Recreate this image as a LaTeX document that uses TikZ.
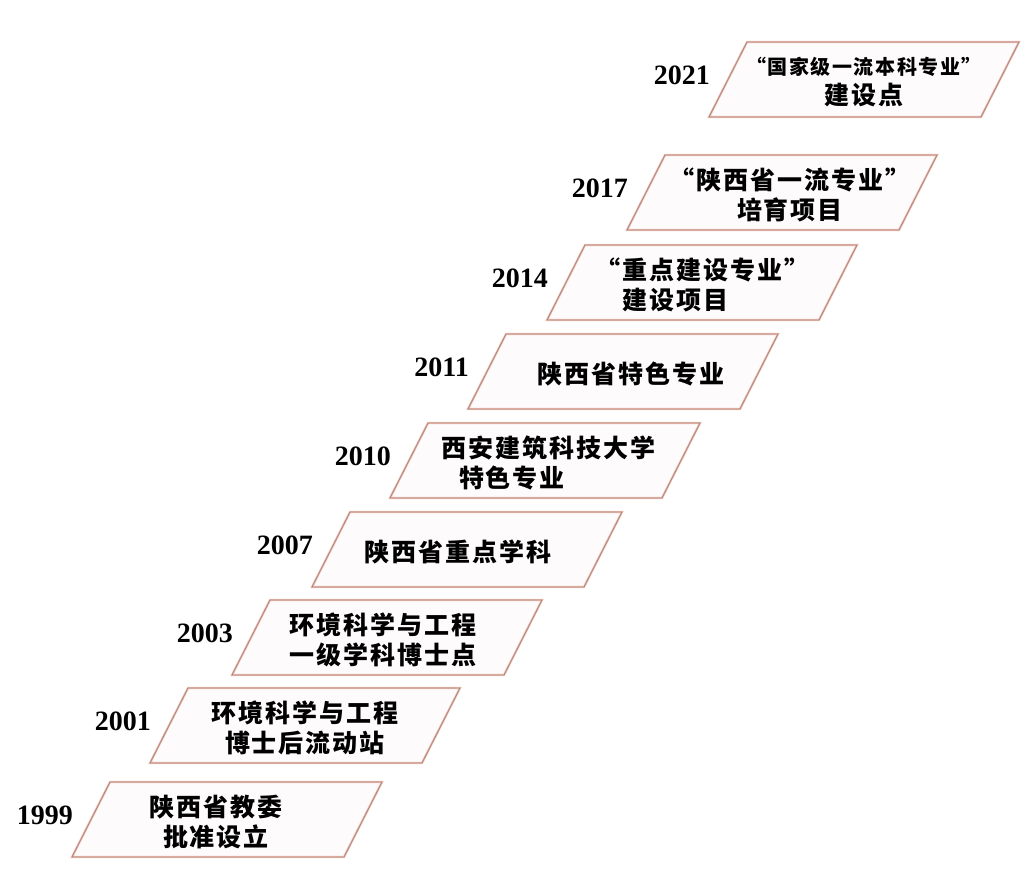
\documentclass[tikz,border=0pt]{standalone}
\usepackage{fontspec}
\setmainfont{Liberation Serif}
\newfontfamily\cjk[LetterSpace=8]{Noto Sans CJK SC}
\newcommand\topsize{\fontsize{20}{27}\selectfont}
\definecolor{edgegray}{RGB}{170,135,125}
\definecolor{edgepink}{RGB}{240,190,180}
\definecolor{stepfill}{RGB}{253,251,251}
\tikzset{
  year/.style={font=\bfseries\fontsize{28}{28}\selectfont, anchor=east, inner sep=0pt},
  stepbox/.style={fill=stepfill, draw=edgepink, line width=2.2pt},
  stepline/.style={draw=edgegray, line width=0.8pt},
  steptext/.style={font=\cjk\bfseries\fontsize{25}{30}\selectfont, align=center, inner sep=0pt},
}

\begin{document}
\begin{tikzpicture}[x=1pt,y=-1pt]
\useasboundingbox (0,0) rectangle (1024,877);

% one step per year, bottom to top
\foreach \yr/\x/\y/\dx/\txt in {
  1999/110/782/-11/{陕西省教委\\批准设立},
  2001/188/688/0/{环境科学与工程\\博士后流动站},
  2003/270/600/-4/{环境科学与工程\\一级学科博士点},
  2007/350/512/-9/{陕西省重点学科},
  2010/428/423/3/{西安建筑科技大学\\\hspace*{-72pt}特色专业},
  2011/506/334/8/{陕西省特色专业},
  2014/585/245/0/{“重点建设专业”\\\hspace*{-54pt}建设项目},
  2017/665/155/8/{“陕西省一流专业”\\培育项目},
  2021/747/42/0/{\topsize“国家级一流本科专业”\\建设点}}{
  \coordinate (b\yr) at (\x,\y);
  \filldraw[stepbox] (b\yr) -- ++(272,0) -- ++(-38,75) -- ++(-272,0) -- cycle;
  \draw[stepline] (b\yr) -- ++(272,0) -- ++(-38,75) -- ++(-272,0) -- cycle;
  \node[steptext] (t\yr) at (\x+117+\dx,\y+40) {\txt};
  \node[year] (y\yr) at (\x-37,\y+33) {\yr};
}

\end{tikzpicture}
\end{document}
